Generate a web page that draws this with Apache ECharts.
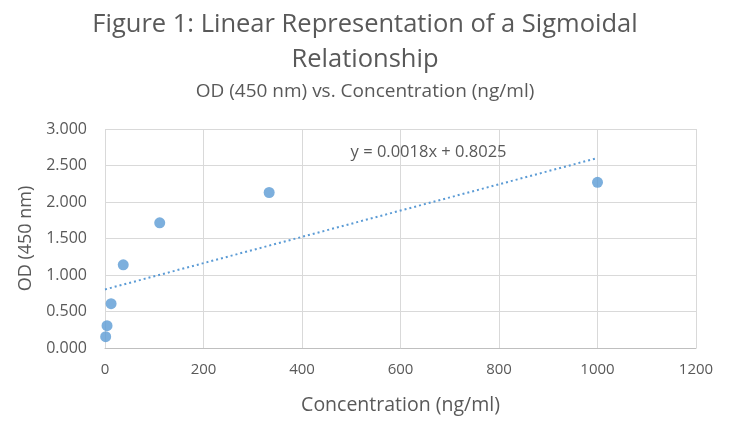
<!DOCTYPE html>
<html>
<head>
<meta charset="utf-8">
<script src="https://cdn.jsdelivr.net/npm/echarts@6/dist/echarts.min.js"></script>
<style>
html,body{margin:0;padding:0;background:#fff;}
#chart{width:730px;height:427px;}
</style>
</head>
<body>
<div id="chart"></div>
<script>
const concentration = [1.37, 4.12, 12.35, 37.04, 111.1, 333.3, 1000];
const od = [0.155, 0.305, 0.607, 1.14, 1.715, 2.13, 2.27];
const trendSlope = 0.0018;
const trendIntercept = 0.8025;
const trendRange = [0, 1000];
const xTicks = [0, 200, 400, 600, 800, 1000, 1200];
const yTicks = [0, 0.5, 1, 1.5, 2, 2.5, 3];
const titleText = 'Figure 1: Linear Representation of a Sigmoidal\nRelationship';
const subtitleText = 'OD (450 nm) vs. Concentration (ng/ml)';
const equationText = 'y = 0.0018x + 0.8025';

const FONT = '"Open Sans"';
const GRAY = '#595959';
const BLUE = '#5b9bd5';

const points = concentration.map((c, i) => [c, od[i]]);
const trend = trendRange.map(x => [x, trendSlope * x + trendIntercept]);

const chart = echarts.init(document.getElementById('chart'), null, {renderer: 'canvas'});
chart.setOption({
  animation: false,
  backgroundColor: '#fff',
  title: [
    {text: titleText, left: 'center', top: 2,
     textStyle: {fontFamily: FONT, fontSize: 25.5, fontWeight: 'normal', color: GRAY, lineHeight: 35, align: 'center'}},
    {text: subtitleText, left: 'center', top: 77,
     textStyle: {fontFamily: FONT, fontSize: 19, fontWeight: 'normal', color: GRAY}}
  ],
  grid: {left: 105, right: 34, top: 129, bottom: 79},
  xAxis: {
    type: 'value', min: xTicks[0], max: xTicks[xTicks.length - 1], interval: 200,
    name: 'Concentration (ng/ml)', nameLocation: 'middle', nameGap: 47,
    nameTextStyle: {fontFamily: FONT, fontSize: 19.5, color: GRAY},
    axisLine: {show: true, lineStyle: {color: '#bfbfbf', width: 1}},
    axisTick: {show: false},
    axisLabel: {fontFamily: FONT, fontSize: 15, color: GRAY, margin: 14,
      formatter: v => String(v)},
    splitLine: {show: true, lineStyle: {color: '#d9d9d9', width: 1}}
  },
  yAxis: {
    type: 'value', min: yTicks[0], max: yTicks[yTicks.length - 1], interval: 0.5,
    name: 'OD (450 nm)', nameLocation: 'middle', nameGap: 68, nameRotate: 90,
    nameTextStyle: {fontFamily: FONT, fontSize: 18, color: GRAY},
    axisLine: {show: false},
    axisTick: {show: false},
    axisLabel: {fontFamily: FONT, fontSize: 16, color: GRAY, margin: 18,
      formatter: v => v.toFixed(3)},
    splitLine: {show: true, lineStyle: {color: '#d9d9d9', width: 1}}
  },
  series: [
    {
      type: 'line', data: trend, showSymbol: false, symbol: 'none', silent: true,
      lineStyle: {color: BLUE, width: 2, type: [2, 3]},
      z: 2,
      markPoint: {
        symbol: 'circle', symbolSize: 0, silent: true,
        data: [{coord: [657, 2.675]}],
        label: {show: true, formatter: equationText, position: 'inside',
          fontFamily: FONT, fontSize: 16.5, color: GRAY}
      }
    },
    {
      type: 'scatter', data: points, symbol: 'circle', symbolSize: 11,
      itemStyle: {color: BLUE}, z: 3
    }
  ]
});
</script>
</body>
</html>
